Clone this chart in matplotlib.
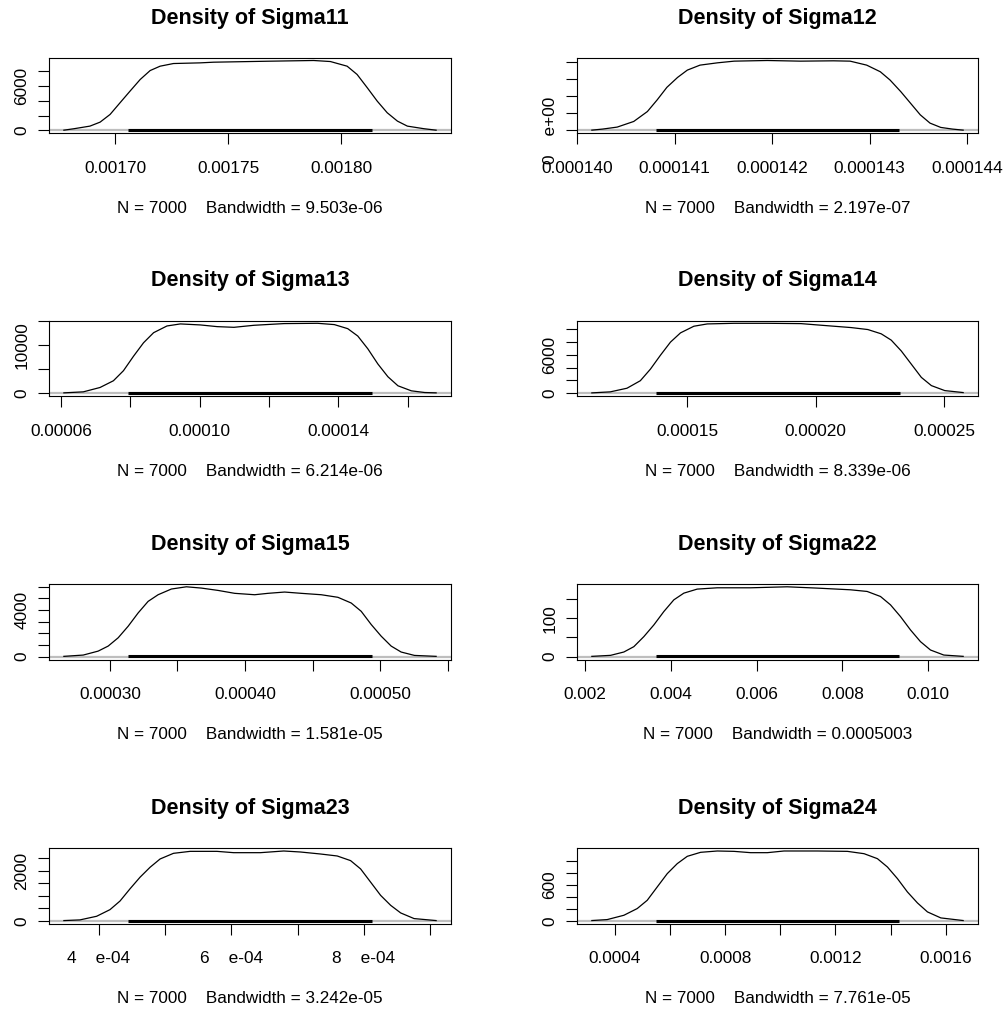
import numpy as np
import matplotlib
matplotlib.use('Agg')
import matplotlib.pyplot as plt

plt.rcParams['font.family'] = ['Liberation Sans', 'DejaVu Sans']

n_draws = 7000

# density curves (x = parameter value, y = density)
s11_x = [0.0016774, 0.0016819, 0.0016889, 0.0016934, 0.0016978, 0.0017022, 0.0017066,
         0.0017111, 0.0017155, 0.0017199, 0.0017258, 0.0017376, 0.0017435, 0.0017671,
         0.0017877, 0.0017951, 0.0018025, 0.0018069, 0.0018114, 0.0018158, 0.0018202,
         0.0018247, 0.0018291, 0.0018364, 0.0018418]
s11_y = [30, 230, 580, 1120, 2160, 3740, 5310, 6890, 8100, 8690, 9050, 9140, 9230, 9360,
         9460, 9320, 8690, 7570, 5770, 3960, 2390, 1260, 580, 230, 30]
s11_rug = [0.0017059, 0.0018133]
s11_bw = '9.503e-06'
s11_xticks = [0.00170, 0.00175, 0.00180]
s11_xlabels = ['0.00170', '0.00175', '0.00180']
s11_yticks = [0, 2000, 4000, 6000, 8000]
s11_ylabels = ['0', '', '', '6000', '']

s12_x = [0.00014015, 0.00014026, 0.00014041, 0.00014058, 0.00014072, 0.00014082, 0.00014092,
         0.00014103, 0.00014113, 0.00014126, 0.00014144, 0.00014161, 0.00014195, 0.00014229,
         0.00014263, 0.00014280, 0.00014297, 0.00014311, 0.00014321, 0.00014332, 0.00014342,
         0.00014352, 0.00014362, 0.00014373, 0.00014385, 0.00014396]
s12_y = [1500, 7700, 19300, 52200, 110100, 177800, 251200, 309200, 351700, 380700, 394200,
         403900, 407700, 403900, 405800, 403900, 380700, 342000, 293700, 226100, 158500,
         90800, 42500, 17400, 7700, 1500]
s12_rug = [0.00014081, 0.0001433]
s12_bw = '2.197e-07'
s12_xticks = [0.000140, 0.000141, 0.000142, 0.000143, 0.000144]
s12_xlabels = ['0.000140', '0.000141', '0.000142', '0.000143', '0.000144']
s12_yticks = [0, 100000, 200000, 300000, 400000]
s12_ylabels = ['0    e+00', '', '', '', '']

s13_x = [0.00006087, 0.00006647, 0.00007129, 0.00007515, 0.00007805, 0.00008095, 0.00008384,
         0.00008674, 0.00009060, 0.00009446, 0.00010025, 0.00010508, 0.00010991, 0.00011570,
         0.00012439, 0.00013404, 0.00013887, 0.00014273, 0.00014562, 0.00014852, 0.00015141,
         0.00015431, 0.00015721, 0.00016107, 0.00016493, 0.00016821]
s13_y = [70, 280, 1180, 2570, 4650, 7640, 10420, 12500, 13890, 14310, 14100, 13750, 13610,
         14030, 14380, 14440, 14170, 13330, 11810, 9170, 6040, 3400, 1530, 490, 140, 70]
s13_rug = [0.0000795, 0.0001497]
s13_bw = '6.214e-06'
s13_xticks = [0.00006, 0.00008, 0.00010, 0.00012, 0.00014, 0.00016]
s13_xlabels = ['0.00006', '', '0.00010', '', '0.00014', '']
s13_yticks = [0, 5000, 10000, 15000]
s13_ylabels = ['0', '', '10000', '']

s14_x = [0.00011289, 0.00012005, 0.00012656, 0.00013177, 0.00013568, 0.00013958, 0.00014349,
         0.00014740, 0.00015260, 0.00015781, 0.00016823, 0.00018125, 0.00019427, 0.00020078,
         0.00021380, 0.00022031, 0.00022552, 0.00022942, 0.00023333, 0.00023724, 0.00024114,
         0.00024505, 0.00025025, 0.00025741]
s14_y = [50, 210, 780, 1960, 3770, 5950, 8010, 9460, 10500, 10860, 10960, 10960, 10910,
         10700, 10290, 9980, 9310, 8320, 6620, 4550, 2480, 1190, 410, 100]
s14_rug = [0.00013789, 0.00023268]
s14_bw = '8.339e-06'
s14_xticks = [0.00015, 0.00020, 0.00025]
s14_xlabels = ['0.00015', '0.00020', '0.00025']
s14_yticks = [0, 2000, 4000, 6000, 8000, 10000]
s14_ylabels = ['0', '', '', '6000', '', '']

s15_x = [0.00026601, 0.00028030, 0.00029138, 0.00029877, 0.00030616, 0.00031355, 0.00032094,
         0.00032832, 0.00033571, 0.00034556, 0.00035665, 0.00036773, 0.00038005, 0.00039236,
         0.00040714, 0.00041699, 0.00042931, 0.00044162, 0.00045640, 0.00046872, 0.00047857,
         0.00048596, 0.00049335, 0.00050074, 0.00050813, 0.00051552, 0.00052537, 0.00054138]
s15_y = [30, 140, 480, 910, 1620, 2610, 3750, 4740, 5310, 5800, 5990, 5880, 5680, 5430,
         5310, 5430, 5540, 5430, 5310, 5090, 4600, 3890, 2760, 1760, 910, 400, 110, 30]
s15_rug = [0.00031355, 0.00049408]
s15_bw = '1.581e-05'
s15_xticks = [0.00030, 0.00035, 0.00040, 0.00045, 0.00050, 0.00055]
s15_xlabels = ['0.00030', '', '0.00040', '', '0.00050', '']
s15_yticks = [0, 1000, 2000, 3000, 4000, 5000, 6000]
s15_ylabels = ['0', '', '', '', '4000', '', '']

s22_x = [0.0021631, 0.0025981, 0.0029087, 0.0031417, 0.0033748, 0.0036078, 0.0038408,
         0.0040738, 0.0043068, 0.0046175, 0.0050835, 0.0058602, 0.0067146, 0.0074136,
         0.0081903, 0.0085787, 0.0088894, 0.0091224, 0.0093554, 0.0095884, 0.0098214,
         0.0100544, 0.0103651, 0.0108156]
s22_y = [0.9, 3.5, 12.2, 26.1, 52.2, 82.6, 117.4, 147.8, 165.2, 175.7, 179.1, 179.1, 181.7,
         178.3, 173.9, 169.6, 156.5, 134.8, 104.3, 69.6, 39.1, 17.4, 4.3, 0.9]
s22_rug = [0.0036621, 0.0093165]
s22_bw = '0.0005003'
s22_xticks = [0.002, 0.004, 0.006, 0.008, 0.010]
s22_xlabels = ['0.002', '0.004', '0.006', '0.008', '0.010']
s22_yticks = [0, 50, 100, 150]
s22_ylabels = ['0', '', '100', '']

s23_x = [0.00034703, 0.00037124, 0.00039647, 0.00041665, 0.00043178, 0.00044692, 0.00046205,
         0.00047719, 0.00049232, 0.00051250, 0.00053773, 0.00057809, 0.00060331, 0.00064367,
         0.00067899, 0.00070421, 0.00073448, 0.00075971, 0.00077989, 0.00079503, 0.00081016,
         0.00082530, 0.00084043, 0.00085557, 0.00087575, 0.00090905]
s23_y = [13, 40, 185, 450, 794, 1283, 1746, 2143, 2474, 2699, 2778, 2778, 2725, 2725, 2792,
         2752, 2672, 2593, 2408, 2077, 1548, 1019, 622, 318, 93, 13]
s23_rug = [0.0004444, 0.00081167]
s23_bw = '3.242e-05'
s23_xticks = [0.0004, 0.0005, 0.0006, 0.0007, 0.0008, 0.0009]
s23_xlabels = ['4    e-04', '', '6    e-04', '', '8    e-04', '']
s23_yticks = [0, 500, 1000, 1500, 2000, 2500]
s23_ylabels = ['0', '', '', '', '2000', '']

s24_x = [0.00031651, 0.00037217, 0.00043267, 0.00048107, 0.00051737, 0.00055367, 0.00058997,
         0.00062627, 0.00066257, 0.00071097, 0.00077147, 0.00083197, 0.00089247, 0.00095297,
         0.00101347, 0.00113447, 0.00124337, 0.00130387, 0.00135227, 0.00138857, 0.00142487,
         0.00146117, 0.00149747, 0.00153377, 0.00158217, 0.00166324]
s24_y = [6, 22, 94, 206, 344, 567, 789, 956, 1078, 1145, 1167, 1161, 1139, 1139, 1167, 1167,
         1161, 1122, 1039, 900, 706, 483, 300, 150, 50, 6]
s24_rug = [0.00055004, 0.00143092]
s24_bw = '7.761e-05'
s24_xticks = [0.0004, 0.0006, 0.0008, 0.0010, 0.0012, 0.0014, 0.0016]
s24_xlabels = ['0.0004', '', '0.0008', '', '0.0012', '', '0.0016']
s24_yticks = [0, 200, 400, 600, 800, 1000]
s24_ylabels = ['0', '', '', '600', '', '']

panels = [
    ('Sigma11', s11_x, s11_y, s11_rug, s11_bw, s11_xticks, s11_xlabels, s11_yticks, s11_ylabels),
    ('Sigma12', s12_x, s12_y, s12_rug, s12_bw, s12_xticks, s12_xlabels, s12_yticks, s12_ylabels),
    ('Sigma13', s13_x, s13_y, s13_rug, s13_bw, s13_xticks, s13_xlabels, s13_yticks, s13_ylabels),
    ('Sigma14', s14_x, s14_y, s14_rug, s14_bw, s14_xticks, s14_xlabels, s14_yticks, s14_ylabels),
    ('Sigma15', s15_x, s15_y, s15_rug, s15_bw, s15_xticks, s15_xlabels, s15_yticks, s15_ylabels),
    ('Sigma22', s22_x, s22_y, s22_rug, s22_bw, s22_xticks, s22_xlabels, s22_yticks, s22_ylabels),
    ('Sigma23', s23_x, s23_y, s23_rug, s23_bw, s23_xticks, s23_xlabels, s23_yticks, s23_ylabels),
    ('Sigma24', s24_x, s24_y, s24_rug, s24_bw, s24_xticks, s24_xlabels, s24_yticks, s24_ylabels),
]

W, H = 1005, 1010
fig = plt.figure(figsize=(W / 100, H / 100), dpi=100)

col_left = [49, 577]      # px
col_width = [402, 401]
row_top = [57.7, 320.5, 584, 848.2]
box_h = 75.5

for i, (name, cx, cy, rug, bw, xt, xl, yt, yl) in enumerate(panels):
    r, c = i // 2, i % 2
    ax = fig.add_axes([col_left[c] / W, 1 - (row_top[r] + box_h) / H,
                       col_width[c] / W, box_h / H])
    cx = np.array(cx)
    cy = np.array(cy)
    ymax = cy.max()

    # zero line, observation band, density curve
    ax.axhline(0, color='#bebebe', lw=1.6, zorder=1)
    ax.plot(rug, [ymax / 200, ymax / 200], color='black', lw=2.2,
            solid_capstyle='butt', zorder=2)
    ax.plot(cx, cy, color='black', lw=0.9, zorder=3)

    ax.margins(x=0.04)
    ax.set_ylim(-0.04 * ymax, 1.04 * ymax)

    ax.set_xticks(xt)
    ax.set_xticklabels(xl)
    ax.set_yticks(yt)
    ax.set_yticklabels(yl)
    ax.tick_params(direction='out', length=8, width=0.8, labelsize=12.4, color='black')
    ax.tick_params(axis='x', pad=12)
    ax.tick_params(axis='y', pad=6)
    for lab in ax.get_yticklabels():
        lab.set_rotation(90)
        lab.set_va('center')
    for sp in ax.spines.values():
        sp.set_linewidth(0.8)

    ax.annotate('Density of ' + name, xy=(0.5, 1), xycoords='axes fraction',
                xytext=(0, 28.5), textcoords='offset points', ha='center', va='center',
                fontsize=15.5, fontweight='bold')
    ax.annotate('N = %d    Bandwidth = %s' % (n_draws, bw), xy=(0.5, 0),
                xycoords='axes fraction', xytext=(0, -54), textcoords='offset points',
                ha='center', va='center', fontsize=12.3)

fig.savefig('out.png', dpi=100)
